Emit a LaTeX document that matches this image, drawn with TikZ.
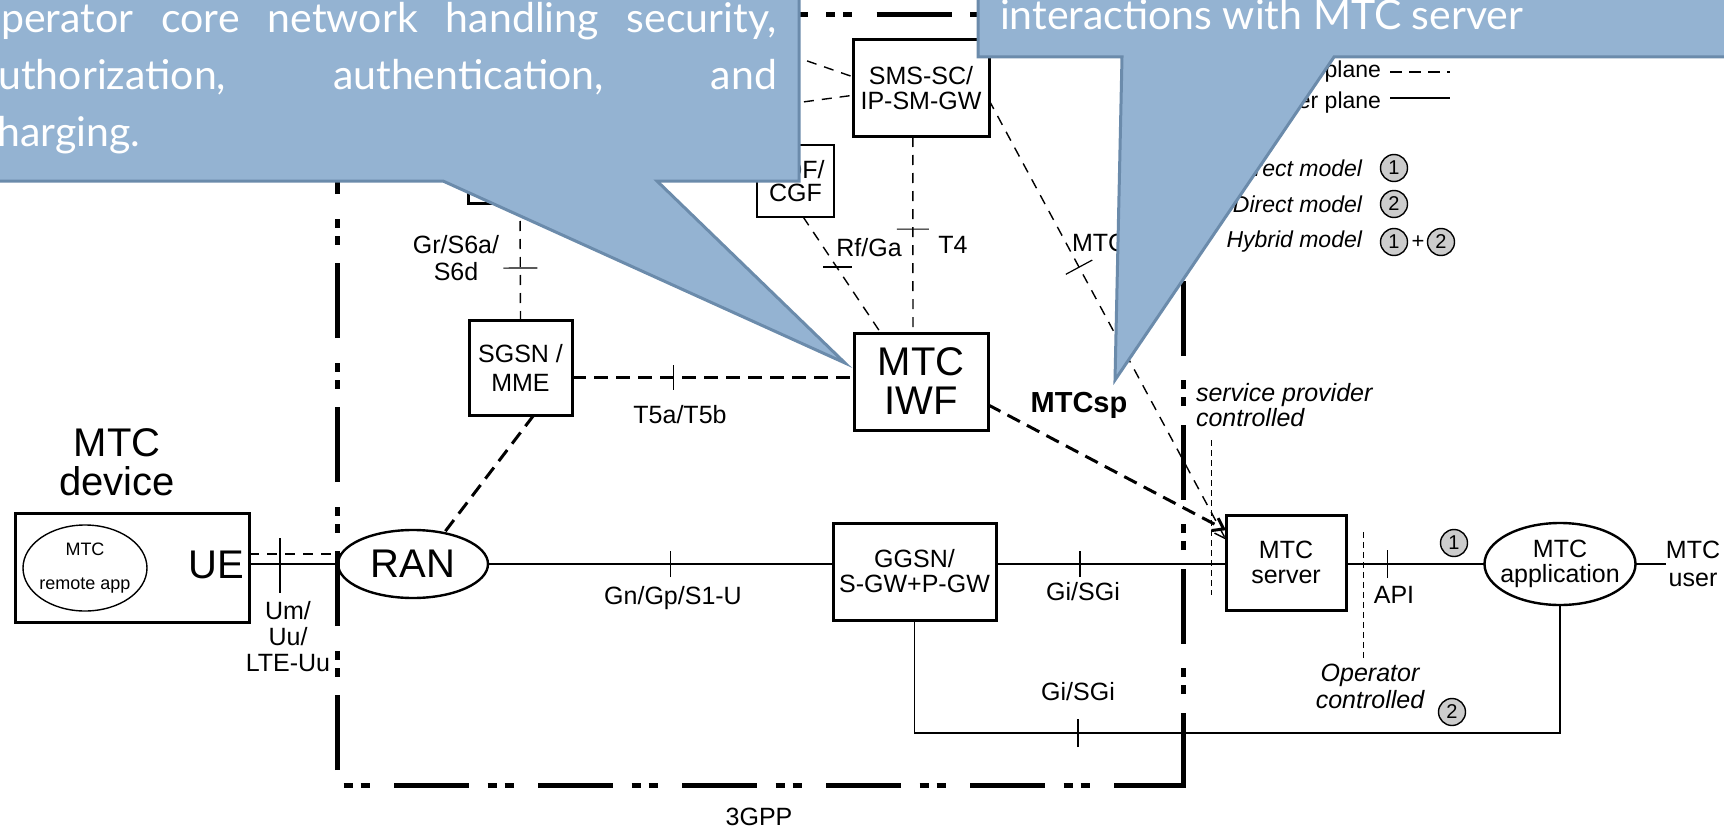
\documentclass[tikz,border=0pt]{standalone}
\usepackage{fontspec}
\setmainfont{Liberation Sans}
\newfontfamily\callfont{Lato}
\usetikzlibrary{shapes.geometric,arrows.meta,decorations.markings,calc}
\definecolor{callfill}{HTML}{94B3D2}
\definecolor{callline}{HTML}{6B8BAB}
\definecolor{circfill}{HTML}{CCCCCC}
\begin{document}
\begin{tikzpicture}[x=0.5pt,y=-0.5pt,
  every node/.style={inner sep=0pt, outer sep=0pt},
  lbl/.style={font=\fontsize{12.5}{13}\selectfont, align=center},
  big/.style={font=\fontsize{20}{19.5}\selectfont, align=center},
  nbox/.style={draw, line width=1.5pt, align=center, font=\fontsize{12.5}{12.5}\selectfont},
  thinl/.style={line width=0.6pt},
  tdash/.style={line width=0.7pt, dash pattern=on 5pt off 4pt},
  Tdash/.style={line width=1.5pt, dash pattern=on 7pt off 4pt},
  vdash/.style={line width=0.5pt, dash pattern=on 3pt off 2pt},
  bnd/.style={line width=2.5pt, line cap=butt},
  tk/.style 2 args={postaction={decorate, decoration={markings, mark=at position #1 with {\draw[solid, line width=0.6pt] (0,-#2) -- (0,#2);}}}},
  cnum/.style={circle, draw, line width=0.7pt, fill=circfill, minimum size=13.5pt, font=\fontsize{10}{10}\selectfont},
  callout/.style={fill=callfill, draw=callline, line width=1.5pt, line join=miter},
  ctext/.style={font=\callfont\fontsize{20.5}{24}\selectfont, text=white, anchor=base west},
  barb/.style={-{Straight Barb[length=5pt,width=7pt]}}
]
\useasboundingbox (0,0) rectangle (1724,829);
\clip (0,0) rectangle (1724,829);

% 3GPP boundary
\draw[bnd, dash pattern=on 37.5pt off 9.25pt on 4.5pt off 4pt on 4.5pt off 12.25pt] (337,770) -- (337,10);
\draw[bnd, dash pattern=on 4.5pt off 4pt on 4.5pt off 12.25pt on 37.5pt off 9.25pt] (343.5,785) -- (1185.5,785);
\draw[bnd, dash pattern=on 37.5pt off 9.25pt on 4.5pt off 4pt on 4.5pt off 12.25pt] (1183,787.5) -- (1183,10);
\draw[bnd, dash pattern=on 4.5pt off 4pt on 4.5pt off 12.25pt on 37.5pt off 9.25pt, dash phase=43.5pt] (337,15) -- (1183,15);
\node[lbl] (l3gpp) at (759,817) {3GPP};

% nodes
\node[draw, line width=1.5pt, minimum width=117pt, minimum height=54.5pt] (dev) at (132,567.5) {};
\node[ellipse, draw, line width=0.7pt, minimum width=62pt, minimum height=43pt] (rapp) at (85,568) {};
\node[font=\fontsize{9}{17}\selectfont, align=center] (rappt) at (rapp.center) {MTC\\remote app};
\node[font=\fontsize{20}{20}\selectfont] (ue) at (216,565) {UE};
\node[big] (devl) at (117,462) {MTC\\device};
\node[ellipse, draw, line width=1.2pt, minimum width=75pt, minimum height=34pt, font=\fontsize{20}{20}\selectfont] (ran) at (413,564) {RAN};
\node[nbox, minimum width=51.5pt, minimum height=47.5pt, font=\fontsize{12.5}{14.5}\selectfont] (sgsn) at (520.5,367.5) {SGSN /\\MME};
\node[draw, line width=1.5pt, minimum width=52pt, minimum height=39pt] (hss) at (520,164) {};
\node[nbox, minimum width=68pt, minimum height=48.5pt] (sms) at (921,88.5) {SMS-SC/\\IP-SM-GW};
\node[nbox, line width=1.2pt, minimum width=38.5pt, minimum height=36pt, font=\fontsize{12.5}{11.5}\selectfont] (cdf) at (795.5,181) {CDF/\\CGF};
\node[nbox, minimum width=67pt, minimum height=48.5pt, font=\fontsize{20}{19.5}\selectfont] (iwf) at (921,381.5) {MTC\\IWF};
\node[nbox, minimum width=81.5pt, minimum height=48.5pt] (gg) at (914.5,571.5) {GGSN/\\S-GW+P-GW};
\node[nbox, minimum width=60pt, minimum height=47.5pt] (srv) at (1286,562.5) {MTC\\server};
\node[ellipse, draw, line width=1.2pt, minimum width=75.5pt, minimum height=41pt] (app) at (1560,564) {};
\node[font=\fontsize{12.5}{12.5}\selectfont, align=center] (appt) at (app.center) {MTC\\application};
\node[font=\fontsize{12.5}{14}\selectfont, align=center] (user) at (1693,564) {MTC\\user};

% user plane connectors
\draw[tdash] (dev.east |- ran.172) -- (ran.172);
\draw[thinl] (dev.east |- ran.west) -- (ran.west);
\coordinate (uetkA) at (280,538);
\coordinate (uetkB) at (280,593);
\draw[thinl] (uetkA) -- (uetkB);
\draw[thinl, tk={0.53}{6.5pt}] (ran.east) -- (gg.west |- ran.east);
\draw[thinl, tk={0.365}{6.5pt}] (gg.east |- ran.east) -- (srv.west |- ran.east);
\draw[thinl, tk={0.30}{7pt}] (srv.east |- ran.east) -- (app.west);
\draw[thinl] (app.east) -- (user.west);
\draw[thinl, tk={0.312}{7pt}] (gg.south) -- ++(0,113) -| (app.south);

% control plane connectors
\coordinate (t5) at (700,377);
\coordinate (up) at (620,-4);
\draw[Tdash] ($(sgsn.south west)!0.63!(sgsn.south east)$) -- (ran.45);
\draw[tdash, tk={0.556}{8.5pt}] (hss.south) -- (sgsn.north);
\draw[Tdash, tk={0.36}{6.25pt}] (sgsn.east |- t5) -- (iwf.west |- t5);
\draw[tdash] ($(cdf.south west)!0.6!(cdf.south east)$) -- ($(iwf.north west)!0.2!(iwf.north east)$);
\coordinate (rftA) at (823,267);
\coordinate (rftB) at (852,267);
\draw[thinl] (rftA) -- (rftB);
\draw[tdash, tk={0.47}{8pt}] ($(sms.south west)!0.44!(sms.south east)$) -- ($(iwf.north west)!0.44!(iwf.north east)$);
\draw[tdash, barb] ($(sms.north east)!0.62!(sms.south east)$) -- ($(srv.north west)!0.26!(srv.south west)$);
\path[tk={0.38}{7.5pt}] ($(sms.north east)!0.62!(sms.south east)$) -- ($(srv.north west)!0.26!(srv.south west)$);
\draw[Tdash, barb] ($(iwf.north east)!0.74!(iwf.south east)$) -- ($(srv.north west)!0.16!(srv.south west)$);
\draw[tdash] ($(hss.north east)!0.1!(hss.south east)$) -- ($(sms.north west)!0.57!(sms.south west)$);
\draw[tdash] (up) -- ($(sms.north west)!0.38!(sms.south west)$);

% boundaries of control
\draw[vdash] (1211,440) -- (1211,595);
\draw[vdash] (1363,532) -- (1363,660);

% labels
\node[lbl] (lum) at (288,637) {Um/\\Uu/\\LTE-Uu};
\node[lbl] (lgn) at (673,598) {Gn/Gp/S1-U};
\node[lbl] (lgi1) at (1083,592) {Gi/SGi};
\node[lbl] (lgi2) at (1078,692) {Gi/SGi};
\node[lbl] (lt5) at (680,415) {T5a/T5b};
\node[lbl, font=\fontsize{12.5}{13.5}\selectfont] (lgr) at (456,258) {Gr/S6a/\\S6d};
\node[lbl] (lrf) at (869,248) {Rf/Ga};
\node[lbl] (lt4) at (953,245) {T4};
\node[lbl, anchor=west] (lsms) at (1072,243) {MTCsms};
\node[font=\bfseries\fontsize{14.5}{14.5}\selectfont] (lsp) at (1079,405) {MTCsp};
\node[anchor=west, align=left, font=\itshape\fontsize{12.5}{12.5}\selectfont] (lspc) at (1196,405) {service provider\\controlled};
\node[align=center, font=\itshape\fontsize{12.5}{13.5}\selectfont] (lopc) at (1370,686) {Operator\\controlled};
\node[lbl] (lapi) at (1394,595) {API};
\node[cnum] (n1) at (1454,543) {1};
\node[cnum] (n2) at (1452,712) {2};

% legend
\node[lbl, anchor=east, font=\fontsize{11.5}{11.5}\selectfont] (lgc) at (1381,72) {Control plane};
\node[lbl, anchor=east, font=\fontsize{11.5}{11.5}\selectfont] (lgu) at (1381,103) {User plane};
\draw[line width=0.7pt, dash pattern=on 6pt off 3.5pt] ($(lgc.east)+(9,0)$) -- ++(60,0);
\draw[line width=0.7pt] ($(lgu.east)+(9,-5)$) -- ++(60,0);
\node[anchor=east, font=\itshape\fontsize{11.5}{11.5}\selectfont] (lgi) at (1362,168) {Indirect model};
\node[anchor=east, font=\itshape\fontsize{11.5}{11.5}\selectfont] (lgd) at (1362,204) {Direct model};
\node[anchor=east, font=\itshape\fontsize{11.5}{11.5}\selectfont] (lgh) at (1362,242) {Hybrid model};
\node[cnum] (g1) at (1394,168) {1};
\node[cnum] (g2) at (1394,204) {2};
\node[cnum] (g3) at (1394,242) {1};
\node[font=\fontsize{11}{11}\selectfont] (gplus) at (1418,242) {+};
\node[cnum] (g4) at (1441,242) {2};

% callouts
\draw[callout] (-10,-10) -- (799,-10) -- (799,181) -- (657,181) -- (845,363) -- (443,181) -- (-10,181) -- cycle;
\draw[callout] (978,-10) -- (1740,-10) -- (1740,57) -- (1334,57) -- (1115,380) -- (1122,57) -- (978,57) -- cycle;
\node[ctext] (c1a) at (-22,33) {\makebox[399.5pt][s]{operator core network handling security,}};
\node[ctext] (c1b) at (-22,90) {\makebox[399.5pt][s]{authorization, authentication, and}};
\node[ctext] (c1c) at (-22,147) {charging.};
\node[ctext] (c2a) at (1000,30) {interactions with MTC server};
\end{tikzpicture}
\end{document}
